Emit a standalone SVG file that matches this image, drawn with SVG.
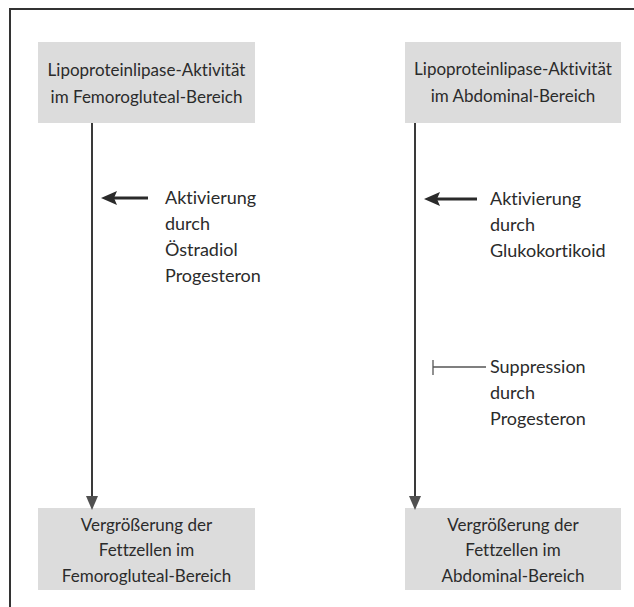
<svg xmlns="http://www.w3.org/2000/svg" width="634" height="607" viewBox="0 0 634 607">
<defs>
<style>
text{font-family:Lato,"Liberation Sans",sans-serif;fill:#2b2b2b;font-variant-ligatures:none}
.box{fill:#dcdcdc}
.bt{font-size:17px;text-anchor:middle}
.lt{font-size:18px}
.main{stroke:#3a3a3a;stroke-width:2;fill:none}
.act{stroke:#2a2a2a;stroke-width:2.8;fill:none}
.sup{stroke:#555;stroke-width:1.3;fill:none}
.headd{fill:#505050}
.headl{fill:#2a2a2a}
</style>
</defs>
<rect width="634" height="607" fill="#ffffff"/>
<path d="M10,607 V9 H634" fill="none" stroke="#333" stroke-width="2"/>
<g id="node-top-left">
<rect class="box" x="38" y="42" width="217" height="81"/>
<text class="bt" x="146.5" y="76">Lipoproteinlipase-Aktivität</text>
<text class="bt" x="146.5" y="103">im Femorogluteal-Bereich</text>
</g>
<g id="node-top-right">
<rect class="box" x="405" y="42" width="216" height="81"/>
<text class="bt" x="513" y="75">Lipoproteinlipase-Aktivität</text>
<text class="bt" x="513" y="102">im Abdominal-Bereich</text>
</g>
<g id="node-bottom-left">
<rect class="box" x="38" y="508" width="217" height="82"/>
<text class="bt" x="146.5" y="531">Vergrößerung der</text>
<text class="bt" x="146.5" y="556">Fettzellen im</text>
<text class="bt" x="146.5" y="582">Femorogluteal-Bereich</text>
</g>
<g id="node-bottom-right">
<rect class="box" x="405" y="508" width="216" height="82"/>
<text class="bt" x="513" y="531">Vergrößerung der</text>
<text class="bt" x="513" y="556">Fettzellen im</text>
<text class="bt" x="513" y="582">Abdominal-Bereich</text>
</g>
<g id="label-left">
<text class="lt" x="165" y="204">Aktivierung</text>
<text class="lt" x="165" y="230">durch</text>
<text class="lt" x="165" y="256">Östradiol</text>
<text class="lt" x="165" y="282">Progesteron</text>
</g>
<g id="label-right-act">
<text class="lt" x="490" y="205">Aktivierung</text>
<text class="lt" x="490" y="231">durch</text>
<text class="lt" x="490" y="257">Glukokortikoid</text>
</g>
<g id="label-right-sup">
<text class="lt" x="490" y="373">Suppression</text>
<text class="lt" x="490" y="399">durch</text>
<text class="lt" x="490" y="425">Progesteron</text>
</g>
<g id="connectors">
<line class="main" x1="92" y1="123" x2="92" y2="498"/>
<polygon class="headd" points="86,496 98,496 92,510"/>
<line class="main" x1="415" y1="123" x2="415" y2="498"/>
<polygon class="headd" points="409,496 421,496 415,510"/>
<line class="act" x1="148" y1="198" x2="112" y2="198"/>
<polygon class="headl" points="101,198 117,191 114,198 117,205"/>
<line class="act" x1="477" y1="199" x2="435" y2="199"/>
<polygon class="headl" points="424,199 440,192 437,199 440,206"/>
<line class="sup" x1="433" y1="367" x2="486" y2="367"/>
<line class="sup" x1="433" y1="360" x2="433" y2="375"/>
</g>
</svg>
